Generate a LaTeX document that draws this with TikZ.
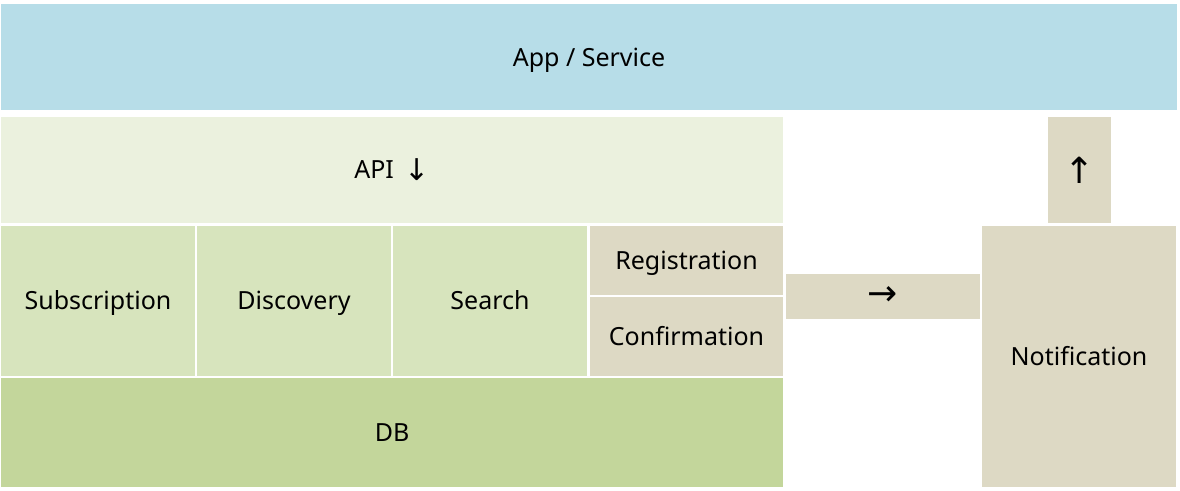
\documentclass[tikz,border=0pt]{standalone}
\usepackage{fontspec}
\setmainfont{Noto Sans}
\newfontfamily\arrowfont{DejaVu Sans}
\usepackage{tikz}
\usetikzlibrary{positioning}
\usepackage{xcolor}
\definecolor{appblue}{HTML}{B7DDE8}
\definecolor{apigreen}{HTML}{EBF1DE}
\definecolor{modgreen}{HTML}{D7E4BD}
\definecolor{dbgreen}{HTML}{C3D69B}
\definecolor{tan}{HTML}{DDD9C4}

\begin{document}
\begin{tikzpicture}
	[   x=1pt,y=-1pt,
		block/.style={fill=#1,draw=none,anchor=north west,inner sep=0pt,outer sep=0pt},
		word/.style={font=\fontsize{25}{30}\selectfont,text height=18pt,text depth=0.5pt},
	]
	\tikzset{size/.style 2 args={minimum width=#1pt,minimum height=#2pt},
		arrowtext/.style={font=\arrowfont\fontsize{36}{40}\selectfont}}
	\useasboundingbox[fill=white] (0,0) rectangle (1180,490);
	\node[block=appblue,word,size={1176}{106},text depth=-4pt] (app) at (1,4) {App / Service};
	\node[block=apigreen,word,size={782}{106}] (api) at (1,117) {API \,\raisebox{-2pt}{\arrowfont\fontsize{30}{34}\selectfont ↓}};
	
	\foreach \name [count=\i from 0] in {Subscription,Discovery,Search}
	{
		\node[block=modgreen,word,size={194}{150}] (m-\i) at ({1+196*\i},226) {\name};
	}
	\node[block=tan,word,size={193}{69}] (reg) at (590,226) {Registration};
	\node[block=tan,word,size={193}{79}] (conf) at (590,297) {Confirmation};
	\node[block=dbgreen,word,size={782}{109}] (db) at (1,378) {DB};
	
	\node[block=tan,arrowtext,size={194}{45}] (link) at (786,274) {→};
	\node[block=tan,word,size={194}{261}] (notif) at (982,226) {Notification};
	\node[block=tan,arrowtext,size={63}{106}] (up) at (1048,117) {↑};
\end{tikzpicture}
\end{document}
